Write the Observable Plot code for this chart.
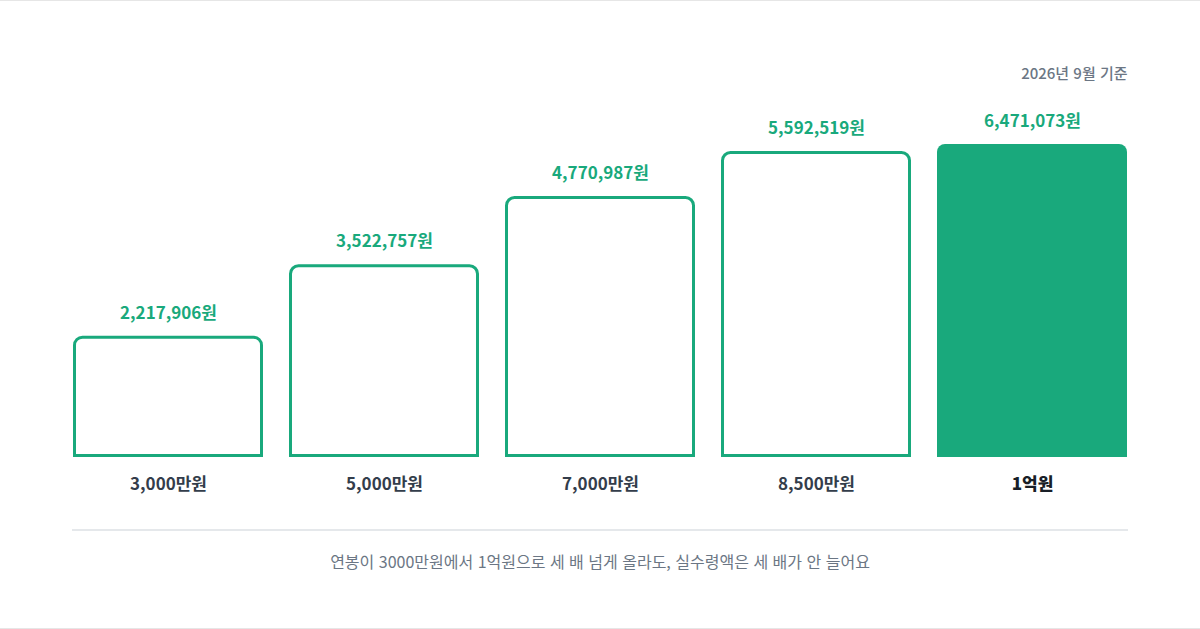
<!DOCTYPE html>
<html lang="ko">
<head>
<meta charset="utf-8">
<script src="https://cdn.jsdelivr.net/npm/d3@7"></script>
<script src="https://cdn.jsdelivr.net/npm/@observablehq/plot@0.6"></script>
<style>
  html, body { margin: 0; padding: 0; background: #fff; }
  #wrap {
    position: relative; width: 1200px; height: 629px; overflow: hidden;
    background: #fff; box-sizing: border-box;
    border-top: 1px solid #e6e6e6; border-bottom: 1px solid #e6e6e6;
    font-family: "Noto Sans CJK KR", "Noto Sans", sans-serif;
  }
  #chart { position: absolute; left: 0; top: -1px; }
  #divider { position: absolute; left: 72px; width: 1056px; top: 528px; height: 2px; background: #e5e8eb; }
  #caption {
    position: absolute; left: 0; width: 1200px; top: 548px; text-align: center;
    font-size: 16px; line-height: 24px; color: #6b7684; font-weight: 400;
  }
</style>
</head>
<body>
<div id="wrap">
  <div id="chart"></div>
  <div id="divider"></div>
  <div id="caption"></div>
</div>
<script>
// ---- data ----
const categories = ["3,000만원", "5,000만원", "7,000만원", "8,500만원", "1억원"];
const netPay = [2217906, 3522757, 4770987, 5592519, 6471073];
const highlighted = [false, false, false, false, true];
const valueLabels = ["2,217,906원", "3,522,757원", "4,770,987원", "5,592,519원", "6,471,073원"];
const dateNote = "2026년 9월 기준";
const captionText = "연봉이 3000만원에서 1억원으로 세 배 넘게 올라도, 실수령액은 세 배가 안 늘어요";
const yCap = 5722000; // the last bar is drawn capped at this height in the reference

const rows = categories.map((c, i) => ({
  cat: c, value: netPay[i], hi: highlighted[i], label: valueLabels[i]
}));
const outlined = rows.filter(d => !d.hi);
const filled = rows.filter(d => d.hi);

const GREEN = "#19a97c";
const FONT = "'Noto Sans CJK KR', 'Noto Sans', sans-serif";

const chart = Plot.plot({
  width: 1200,
  height: 520,
  marginLeft: 72,
  marginRight: 72,
  marginTop: 144,
  marginBottom: 63,
  style: { fontFamily: FONT, background: "transparent" },
  x: { type: "band", domain: categories, paddingInner: 0.12, paddingOuter: 0, axis: null },
  y: { domain: [0, yCap], clamp: true, axis: null },
  marks: [
    Plot.rectY(outlined, {
      x: "cat", y: "value", fill: "white", stroke: GREEN, strokeWidth: 3,
      inset: 1.5, ry2: 8
    }),
    Plot.rectY(filled, {
      x: "cat", y: "value", fill: GREEN, inset: 0, ry2: 8
    }),
    Plot.text(rows, {
      x: "cat", y: "value", text: "label", dy: -23, lineAnchor: "middle",
      fill: GREEN, fontSize: 17, fontWeight: 700
    }),
    Plot.text(outlined, {
      x: "cat", text: "cat", frameAnchor: "bottom", dy: 27, lineAnchor: "middle",
      fill: "#333d4b", fontSize: 17, fontWeight: 700
    }),
    Plot.text(filled, {
      x: "cat", text: "cat", frameAnchor: "bottom", dy: 27, lineAnchor: "middle",
      fill: "#191f28", fontSize: 17, fontWeight: 800
    }),
    Plot.text([dateNote], {
      text: d => d, frameAnchor: "top-right", dy: -70, dx: -1, textAnchor: "end",
      lineAnchor: "middle", fill: "#6b7684", fontSize: 15, fontWeight: 500
    })
  ]
});
document.getElementById("chart").appendChild(chart);
document.getElementById("caption").textContent = captionText;
</script>
</body>
</html>
